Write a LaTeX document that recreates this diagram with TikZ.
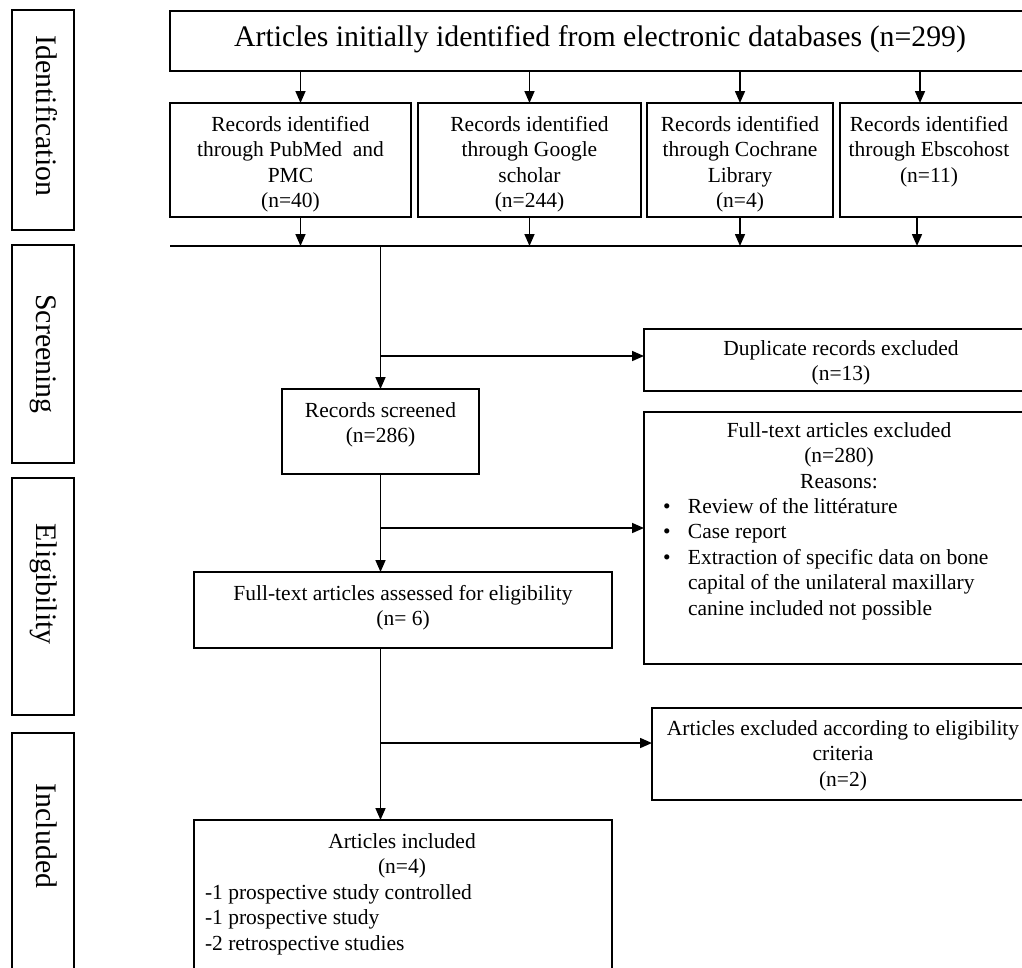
\documentclass[tikz,border=0pt]{standalone}
\usepackage{fontspec}
\setmainfont{Liberation Serif}
\usetikzlibrary{arrows.meta,calc}
\tikzset{
  frame/.style={draw, line width=1.8pt, inner sep=0pt, outer sep=0pt, anchor=north west},
  txt/.style={inner sep=0pt, outer sep=0pt, align=center, font=\fontsize{21.5}{25.5}\selectfont},
  txtl/.style={txt, align=left},
  big/.style={inner sep=0pt, outer sep=0pt, font=\fontsize{29.8}{36}\selectfont},
  side/.style={big, rotate=-90, anchor=base},
  ln/.style={line width=1.8pt},
  arr/.style={line width=1.6pt, -{Triangle[length=12pt,width=10pt]}},
}
\newcommand\bul{\makebox[25pt][l]{\textbullet}}
\newcommand\ind{\hspace*{25pt}}
\begin{document}
\begin{tikzpicture}[x=1pt,y=-1pt]
\path[use as bounding box, clip] (0,0) rectangle (1022,967);
\fill[white] (0,0) rectangle (1022,967);

% stage labels
\node[frame, minimum width=62pt, minimum height=220pt] (idbox) at (12,10) {};
\node[side] (idlab) at (36,116) {Identification};
\node[frame, minimum width=62pt, minimum height=218pt] (scbox) at (12,245) {};
\node[side] (sclab) at (36,354) {Screening};
\node[frame, minimum width=62pt, minimum height=237pt] (elbox) at (12,478) {};
\node[side] (ellab) at (36,584) {Eligibility};
\node[frame, minimum width=62pt, minimum height=260pt] (inbox) at (12,733) {};
\node[side] (inlab) at (36,836) {Included};

% top box
\node[frame, minimum width=860pt, minimum height=60pt] (top) at (170,11) {};
\node[big, anchor=base] (topt) at (600,46) {Articles initially identified from electronic databases (n=299)};

% source boxes
\node[frame, minimum width=241pt, minimum height=114pt] (pubmed) at (170,103) {};
\node[frame, minimum width=223pt, minimum height=114pt] (google) at (418,103) {};
\node[frame, minimum width=186pt, minimum height=114pt] (cochrane) at (647,103) {};
\node[frame, minimum width=190pt, minimum height=114pt] (ebsco) at (840,103) {};
\node[txt, anchor=base] (pubmedt) at (290.5,207.5) {Records identified\\through PubMed\ \ and\\PMC\\(n=40)};
\node[txt, anchor=base] (googlet) at (529.5,207.5) {Records identified\\through Google\\scholar\\(n=244)};
\node[txt, anchor=base] (cochranet) at (740,207.5) {Records identified\\through Cochrane\\Library\\(n=4)};
\node[txt, anchor=base] (ebscot) at (929,182) {Records identified\\through Ebscohost\\(n=11)};

\draw[arr] ([xshift=10pt]pubmed.north |- top.south) -- ([xshift=10pt]pubmed.north);
\draw[arr] (google.north |- top.south) -- (google.north);
\draw[arr] (cochrane.north |- top.south) -- (cochrane.north);
\draw[arr] ([xshift=-15pt]ebsco.north |- top.south) -- ([xshift=-15pt]ebsco.north);

% collecting line
\coordinate (hl1) at (170,246);
\coordinate (hl2) at (1030,246);
\draw[ln] (hl1) -- (hl2);
\draw[arr] ([xshift=10pt]pubmed.south) -- ([xshift=10pt]pubmed.south |- hl1);
\draw[arr] (google.south) -- (google.south |- hl1);
\draw[arr] (cochrane.south) -- (cochrane.south |- hl1);
\draw[arr] ([xshift=-18pt]ebsco.south) -- ([xshift=-18pt]ebsco.south |- hl1);

% screening
\node[frame, minimum width=197pt, minimum height=85pt] (screened) at (282,389) {};
\node[txt, anchor=base] (screenedt) at (380.5,442.5) {Records screened\\(n=286)};
\node[frame, minimum width=394pt, minimum height=62pt] (dup) at (644,329) {};
\node[txt, anchor=base] (dupt) at (841,380.5) {Duplicate records excluded\\(n=13)};
\coordinate (b1) at (0,356);
\draw[arr] (screened.north |- hl1) -- (screened.north);
\draw[arr] (screened.north |- b1) -- (b1 -| dup.west);

% eligibility
\node[frame, minimum width=418pt, minimum height=76pt] (assessed) at (194,572) {};
\node[txt, anchor=base] (assessedt) at (403,625.5) {Full-text articles assessed for eligibility\\(n= 6)};
\node[frame, minimum width=390pt, minimum height=252pt] (ftex) at (644,412) {};
\node[txt, anchor=base] (ftext) at (839,488) {Full-text articles excluded\\(n=280)\\Reasons:};
\node[txtl, anchor=base west] (ftexl) at (663,615) {\bul Review of the litt\'erature\\\bul Case report\\\bul Extraction of specific data on bone\\\ind capital of the unilateral maxillary\\\ind canine included not possible};
\coordinate (b2) at (0,528);
\draw[arr] (screened.south) -- (screened.south |- assessed.north);
\draw[arr] (screened.south |- b2) -- (b2 -| ftex.west);

% included
\node[frame, minimum width=418pt, minimum height=200pt] (included) at (194,820) {};
\node[txt, anchor=base] (includedt) at (402,873.5) {Articles included\\(n=4)};
\node[txtl, anchor=base west] (includedl) at (205,950) {-1 prospective study controlled\\-1 prospective study\\-2 retrospective studies};
\node[frame, minimum width=382pt, minimum height=92pt] (artex) at (652,708) {};
\node[txt, anchor=base] (artext) at (843,786) {Articles excluded according to eligibility\\criteria\\(n=2)};
\coordinate (b3) at (0,743);
\draw[arr] (screened.south |- assessed.south) -- (screened.south |- included.north);
\draw[arr] (screened.south |- b3) -- (b3 -| artex.west);
\end{tikzpicture}
\end{document}
